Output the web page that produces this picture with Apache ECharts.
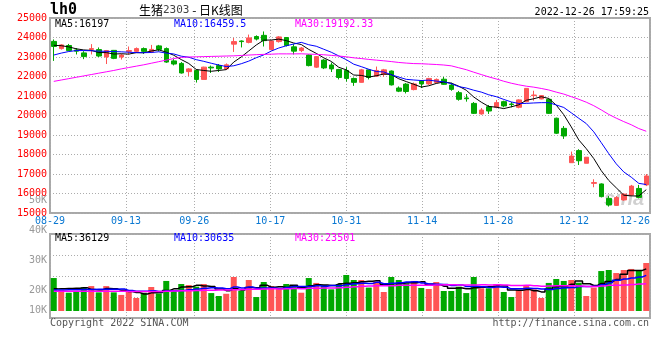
<!DOCTYPE html>
<html><head><meta charset="utf-8">
<script src="https://cdn.jsdelivr.net/npm/echarts@6/dist/echarts.min.js"></script>
<style>html,body{margin:0;padding:0;background:#fff}#c{width:660px;height:360px}</style>
</head><body><div id="c"></div>
<script>
const dates = ['08-29','08-30','08-31','09-01','09-02','09-05','09-06','09-07','09-08','09-09',
'09-13','09-14','09-15','09-16','09-19','09-20','09-21','09-22','09-23','09-26',
'09-27','09-28','09-29','09-30','10-10','10-11','10-12','10-13','10-14','10-17',
'10-18','10-19','10-20','10-21','10-24','10-25','10-26','10-27','10-28','10-31',
'11-01','11-02','11-03','11-04','11-07','11-08','11-09','11-10','11-11','11-14',
'11-15','11-16','11-17','11-18','11-21','11-22','11-23','11-24','11-25','11-28',
'11-29','11-30','12-01','12-02','12-05','12-06','12-07','12-08','12-09','12-12',
'12-13','12-14','12-15','12-16','12-19','12-20','12-21','12-22','12-23','12-26'];
const open = [23800,23430,23590,23360,23210,23390,23380,23000,23340,23000,
 23290,23290,23430,23260,23570,23430,22800,22670,22250,22310,
 21850,22480,22560,22390,23660,23820,23750,24050,24110,23380,
 23790,24000,23520,23330,23100,22480,22840,22590,22360,22310,
 21900,21700,22340,22020,22110,22280,21410,21610,21330,21770,
 21620,21690,21860,21560,21170,20900,20620,20080,20450,20420,
 20710,20590,20420,20710,21020,20850,20830,19860,19340,17580,
 18200,17550,16520,16490,15750,15390,15670,15920,16260,16440];
const close = [23540,23620,23330,23300,23020,23430,23050,23330,22930,23100,
 23330,23430,23290,23390,23390,22740,22640,22180,22390,21850,
 22480,22440,22390,22600,23790,23790,23980,23920,23840,23820,
 24030,23590,23300,23460,22560,23020,22440,22390,21950,21900,
 21700,22340,21950,22310,22340,21570,21250,21230,21620,21620,
 21900,21850,21600,21340,20830,20860,20110,20280,20230,20660,
 20490,20560,20800,21390,21050,21020,20110,19090,18950,17920,
 17680,17860,16560,15840,15410,15790,15970,16380,15800,16900];
const low = [22800,23380,23300,23130,22890,23130,23000,22640,22890,22870,
 23130,23230,23160,23200,23290,22700,22570,22150,22020,21690,
 21850,22180,22230,22340,23260,23490,23700,23850,23540,23340,
 23740,23540,23130,23250,22520,22440,22380,22230,21850,21740,
 21520,21690,21850,21980,21980,21540,21200,21130,21290,21410,
 21570,21650,21570,21270,20760,20710,20080,20040,20080,20370,
 20420,20420,20370,20680,20760,20830,20080,19050,18800,17580,
 17460,17550,16320,15800,15330,15360,15630,15870,15750,16380];
const high = [23900,23660,23670,23460,23300,23660,23490,23360,23360,23160,
 23540,23490,23490,23620,23620,23490,22890,22740,22430,22360,
 22500,22560,22640,22670,23980,23850,24150,24110,24310,23850,
 24070,24020,23660,23510,23130,23050,22890,22720,22390,22480,
 21950,22390,22340,22510,22390,22310,21490,21660,21690,21820,
 21930,21900,21980,21680,21260,21100,20690,20380,20540,20800,
 20760,20690,20830,21390,21270,21050,20880,19890,19460,18150,
 18270,17860,16730,16520,15870,15870,16010,16440,16440,17000];
const volume = [28300,18000,15700,17200,20300,21400,16000,21400,16000,13800,
 16600,11200,15700,20600,15100,25800,18000,23200,22300,20900,
 23200,15400,12900,14800,29200,17500,26600,12000,24900,21400,
 19500,23200,21400,15700,28300,24100,22300,18600,23200,30900,
 26600,26600,20100,25200,16300,29200,26600,23800,25800,19800,
 18900,24900,17200,17200,20900,15400,29200,19500,19500,23200,
 16300,12000,18000,22300,18600,11200,24100,27500,25800,26600,
 24300,12900,20100,34300,35200,32600,35200,36100,35200,41200];
const ma5 = [23600,23580,23520,23420,23362,23340,23226,23226,23152,23168,
 23148,23224,23216,23308,23366,23248,23090,22868,22668,22360,
 22308,22268,22310,22352,22740,23002,23310,23616,23864,23870,
 23918,23840,23716,23640,23388,23186,22956,22774,22472,22340,
 22076,22056,21968,22040,22128,22102,21884,21740,21602,21458,
 21524,21644,21718,21662,21504,21296,20948,20684,20462,20428,
 20354,20444,20548,20780,20858,20964,20874,20532,20044,19418,
 18750,18300,17794,17172,16670,16292,15914,15878,15870,16197];
const ma10 = [23100,23200,23280,23330,23330,23320,23300,23290,23280,23265,
 23244,23225,23221,23230,23267,23198,23157,23042,22988,22863,
 22778,22679,22589,22510,22550,22655,22789,22963,23108,23305,
 23460,23575,23666,23752,23629,23552,23398,23245,23056,22864,
 22631,22506,22371,22256,22234,22089,21970,21854,21821,21793,
 21813,21764,21729,21632,21481,21410,21296,21201,21062,20966,
 20825,20696,20616,20621,20643,20659,20659,20540,20412,20138,
 19857,19587,19163,18608,18044,17521,17107,16836,16521,16460];
const ma30 = [21750,21820,21890,21960,22030,22100,22170,22240,22310,22390,
 22460,22530,22600,22680,22760,22840,22920,22980,23000,23010,
 23020,23030,23040,23050,23060,23080,23100,23120,23135,23145,
 23161,23160,23159,23164,23149,23135,23115,23084,23051,23011,
 22957,22921,22876,22840,22805,22766,22720,22688,22662,22654,
 22635,22615,22589,22547,22448,22350,22221,22100,21980,21875,
 21757,21656,21573,21504,21454,21387,21309,21199,21099,20966,
 20832,20683,20503,20287,20056,19863,19687,19525,19331,19192];
const volMa5 = [19000,19200,19400,19600,19900,18520,18120,19260,19020,17720,
 16760,15800,14660,15580,15840,17680,19040,20540,20880,22040,
 21520,21000,18940,17440,19100,17960,20200,20020,22040,20480,
 20880,20200,22080,20240,21620,22540,22360,21800,23300,23820,
 24320,25180,25480,25880,22960,23480,23480,24220,24340,25040,
 22980,22640,21320,19600,19820,19120,19980,20440,20900,21360,
 21540,18100,17800,18360,17440,16420,18840,20740,21440,23040,
 25660,23420,21940,23640,25360,27020,31480,34680,34860,36129];
const volMa10 = [18000,18100,18200,18300,18400,18500,18600,18700,18750,18810,
 17640,16960,16960,17300,16780,17220,17420,17600,18230,18940,
 19600,20020,19740,19160,20570,19740,20600,19480,19740,19790,
 19420,20200,21050,21140,21050,21710,21280,21940,21770,22720,
 23430,23770,23640,24590,23390,23900,24330,24850,25110,24000,
 23230,23060,22770,21970,22430,21050,21310,20880,20250,20590,
 20330,19040,19120,19630,19400,18980,18470,19270,19900,20240,
 21040,21130,21340,22540,24200,26340,27460,28320,29260,30635];
const volMa30 = [17000,17000,17000,17000,17000,17000,17000,17000,17000,16900,
 16800,16800,16800,16800,16800,17000,17200,17300,17400,17600,
 17800,17900,18000,18100,18300,18500,18600,18700,18900,19180,
 18887,19060,19250,19200,19467,19557,19767,19674,19914,20484,
 20817,21330,21477,21630,21670,21783,22070,22090,22207,22170,
 22027,22344,22487,22567,22290,22220,22307,22557,22377,22437,
 22330,21957,21844,22064,21741,21311,21371,21668,21755,21612,
 21535,21078,21078,21381,22011,22124,22411,22821,23134,23501];
const tickDates = ['08-29','09-13','09-26','10-17','10-31','11-14','11-28','12-12','12-26'];
const volSideLabels = ['50K','40K','30K','20K','10K'];
const priceLegend = ['MA5:16197','MA10:16459.5','MA30:19192.33'];
const volLegend = ['MA5:36129','MA10:30635','MA30:23501'];

const RED = '#ff5555', GREEN = '#00a800';
const MONO = "'DejaVu Sans Mono', monospace";
const GRIDC = '#acacac';
const dot = { color: GRIDC, type: [1, 2], width: 1 };
const showTick = (i) => tickDates.indexOf(dates[i]) >= 0;

const chart = echarts.init(document.getElementById('c'), null, { renderer: 'canvas' });
const kData = dates.map((d, i) => [open[i], close[i], low[i], high[i]]);
const volData = volume.map((v, i) => ({ value: v, itemStyle: { color: close[i] >= open[i] ? RED : GREEN } }));

const legendColors = ['#000000', '#0000ff', '#ff00ff'];
const legendX = [55, 174, 295];
const graphics = [];
priceLegend.forEach((t, k) => graphics.push({ type: 'text', x: legendX[k], y: 24, z: 100,
  style: { text: t, fill: legendColors[k], font: '10px ' + MONO, verticalAlign: 'middle' } }));
volLegend.forEach((t, k) => graphics.push({ type: 'text', x: legendX[k], y: 238, z: 100,
  style: { text: t, fill: legendColors[k], font: '10px ' + MONO, verticalAlign: 'middle' } }));
volSideLabels.forEach((t, k) => graphics.push({ type: 'text', x: 47, y: Math.min(200 + 30.3 * k, 310),
  style: { text: t, fill: '#999999', font: '10px ' + MONO, align: 'right', verticalAlign: 'middle' } }));
graphics.push({ type: 'text', x: 50, y: 10, style: { text: 'lh0', fill: '#000', font: 'bold 15px ' + MONO, verticalAlign: 'middle' } });
graphics.push({ type: 'text', x: 139, y: 10, style: {
  text: '{a|生猪}{b|2303}{a| - 日K线图}', verticalAlign: 'middle',
  rich: { a: { font: "12px 'Noto Sans CJK SC'", fill: '#000' }, b: { font: '11px ' + MONO, fill: '#444' } } } });
graphics.push({ type: 'text', x: 649, y: 12, style: { text: '2022-12-26 17:59:25', fill: '#000', font: '10px ' + MONO, align: 'right', verticalAlign: 'middle' } });
graphics.push({ type: 'text', x: 50, y: 323, style: { text: 'Copyright 2022 SINA.COM', fill: '#555', font: '10px ' + MONO, verticalAlign: 'middle' } });
graphics.push({ type: 'text', x: 649, y: 323, style: { text: 'http://finance.sina.com.cn', fill: '#555', font: '10px ' + MONO, align: 'right', verticalAlign: 'middle' } });
graphics.push({ type: 'text', x: 604, y: 199, z: 1, style: { text: 'sina', fill: 'rgba(170,170,170,0.55)', font: 'italic bold 20px Arial, sans-serif', verticalAlign: 'middle' } });

const option = {
  animation: false,
  backgroundColor: '#ffffff',
  grid: [
    { left: 50, top: 18, width: 600, height: 195, show: true, borderColor: '#a8a8a8', borderWidth: 2, backgroundColor: '#fff' },
    { left: 50, top: 234, width: 600, height: 84, show: true, borderColor: '#a8a8a8', borderWidth: 2, backgroundColor: '#fff' }
  ],
  xAxis: [
    { gridIndex: 0, type: 'category', data: dates, boundaryGap: true, show: false, position: 'bottom' },
    { gridIndex: 0, type: 'category', data: dates, boundaryGap: false, position: 'bottom',
      axisLine: { show: false }, axisTick: { show: false },
      axisLabel: { interval: (i) => showTick(i), color: '#0a78d2', fontFamily: MONO, fontSize: 10, margin: 3, alignMaxLabel: 'right' },
      splitLine: { show: true, interval: (i) => showTick(i), lineStyle: dot } },
    { gridIndex: 1, type: 'category', data: dates, boundaryGap: true, show: false, position: 'bottom' },
    { gridIndex: 1, type: 'category', data: dates, boundaryGap: false, position: 'bottom',
      axisLine: { show: false }, axisTick: { show: false }, axisLabel: { show: false },
      splitLine: { show: true, interval: (i) => showTick(i), lineStyle: dot } }
  ],
  yAxis: [
    { gridIndex: 0, type: 'value', min: 15000, max: 25000, interval: 1000,
      axisLine: { show: false }, axisTick: { show: false },
      axisLabel: { color: '#ff0000', fontFamily: MONO, fontSize: 10, margin: 3, formatter: (v) => String(v) },
      splitLine: { show: true, lineStyle: dot } },
    { gridIndex: 1, type: 'value', min: -6000, max: 66100, show: false },
    { gridIndex: 1, type: 'value', min: 0, max: 4, interval: 1,
      axisLine: { show: false }, axisTick: { show: false }, axisLabel: { show: false },
      splitLine: { show: true, lineStyle: dot } }
  ],
  series: [
    { type: 'candlestick', xAxisIndex: 0, yAxisIndex: 0, data: kData, barWidth: 5,
      itemStyle: { color: RED, color0: GREEN, borderColor: RED, borderColor0: GREEN, borderWidth: 1 } },
    { type: 'line', xAxisIndex: 0, yAxisIndex: 0, data: ma5, symbol: 'none', lineStyle: { color: '#000', width: 1 } },
    { type: 'line', xAxisIndex: 0, yAxisIndex: 0, data: ma10, symbol: 'none', lineStyle: { color: '#0000ff', width: 1 } },
    { type: 'line', xAxisIndex: 0, yAxisIndex: 0, data: ma30, symbol: 'none', lineStyle: { color: '#ff00ff', width: 1 } },
    { type: 'bar', xAxisIndex: 2, yAxisIndex: 1, data: volData, barWidth: 6 },
    { type: 'line', xAxisIndex: 2, yAxisIndex: 1, data: volMa5, step: 'middle', symbol: 'none', lineStyle: { color: '#000', width: 1.5 } },
    { type: 'line', xAxisIndex: 2, yAxisIndex: 1, data: volMa10, step: 'middle', symbol: 'none', lineStyle: { color: '#0000ff', width: 1.5 } },
    { type: 'line', xAxisIndex: 2, yAxisIndex: 1, data: volMa30, step: 'middle', symbol: 'none', lineStyle: { color: '#ff00ff', width: 1.5 } }
  ],
  graphic: graphics
};
chart.setOption(option);
</script>
</body></html>
